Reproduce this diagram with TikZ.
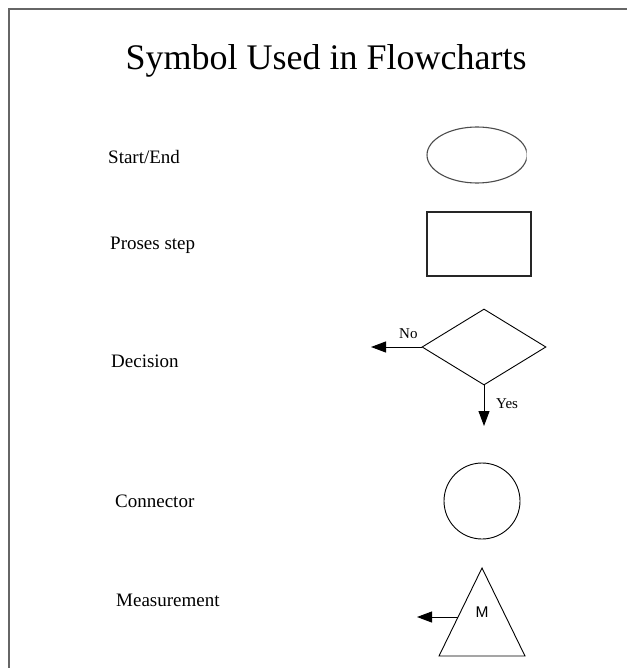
\documentclass[tikz,border=0pt]{standalone}
\usepackage{fontspec}
\setmainfont{Liberation Serif}
\newfontfamily\msans{Liberation Sans}
\usetikzlibrary{arrows.meta,shapes.geometric}
\begin{document}
\begin{tikzpicture}[x=1pt,y=-1pt,
  lbl/.style={anchor=base west,inner sep=0pt,font=\fontsize{19}{22}\selectfont},
  small/.style={anchor=base west,inner sep=0pt,font=\fontsize{15}{18}\selectfont},
  sym/.style={draw=black,line width=0.9pt},
  arr/.style={draw=black,line width=1pt,-{Triangle[length=15pt,width=11pt]}}]
\useasboundingbox (0,0) rectangle (626,668);
\fill[white] (0,0) rectangle (626,668);
% frame
\draw[draw=black!60,line width=1.3pt] (9,669) -- (9,9) -- (627,9);
% title
\node[anchor=base,inner sep=0pt,font=\fontsize{36}{42}\selectfont] (title) at (326,70) {Symbol Used in Flowcharts};
% labels
\node[lbl] (l1) at (108,164) {Start/End};
\node[lbl] (l2) at (110,249) {Proses step};
\node[lbl] (l3) at (111,367) {Decision};
\node[lbl] (l4) at (115,507) {Connector};
\node[lbl] (l5) at (116,606) {Measurement};
% start/end
\begin{scope}
\clip (0,0) rectangle (526.5,668);
\node[draw=black!70,line width=1.1pt,ellipse,minimum width=100pt,minimum height=56pt,inner sep=0pt] (se) at (477,155) {};
\end{scope}
% process
\node[draw=black!85,line width=1.1pt,rectangle,minimum width=104pt,minimum height=64pt,inner sep=0pt] (ps) at (479,244) {};
% decision
\node[sym,diamond,minimum width=124pt,minimum height=76pt,inner sep=0pt] (dec) at (484,347) {};
\coordinate (noTip) at (371,347);
\coordinate (yesTip) at (484,426);
\draw[arr] (dec.west) -- (noTip);
\draw[arr] (dec.south) -- (yesTip);
\node[small] (no) at (399,338) {No};
\node[small] (yes) at (496,408) {Yes};
% connector
\node[sym,circle,minimum size=76pt,inner sep=0pt] (con) at (482,501) {};
% measurement
\coordinate (tA) at (482,568);
\coordinate (tL) at (439,656);
\coordinate (tR) at (525,656);
\draw[sym,line join=miter] (tA) -- (tL) -- (tR) -- cycle;
\node[anchor=base,inner sep=0pt,font=\msans\fontsize{15.5}{18}\selectfont] (m) at (482,617) {M};
\coordinate (mOut) at (458,617);
\coordinate (mTip) at (417,617);
\draw[arr] (mOut) -- (mTip);
\end{tikzpicture}
\end{document}
